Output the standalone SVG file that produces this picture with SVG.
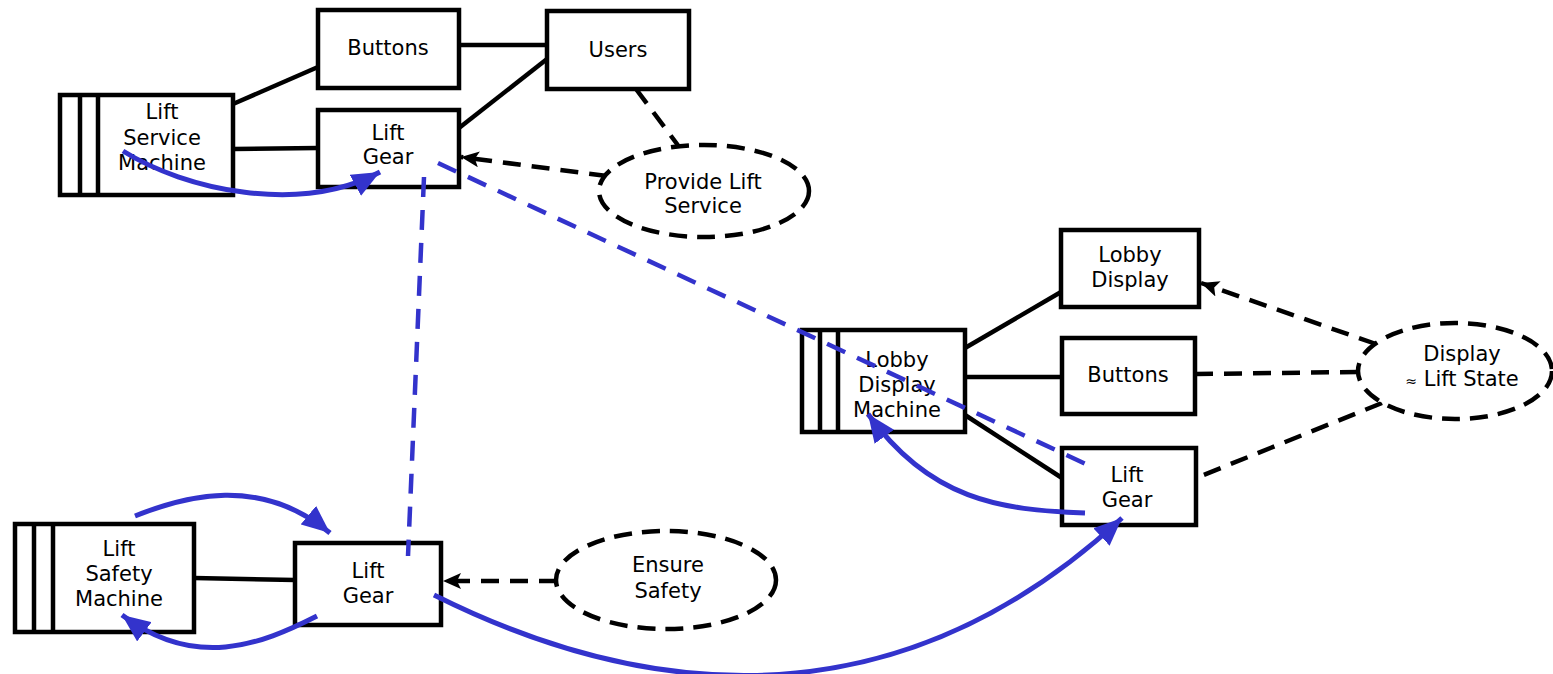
<svg xmlns="http://www.w3.org/2000/svg" width="1553" height="674" viewBox="0 0 1553 674">
  <style>
    .box { fill: #ffffff; stroke: #000000; stroke-width: 4.5; }
    .bar { fill: none; stroke: #000000; stroke-width: 4.5; }
    .domain { fill: #ffffff; stroke: #000000; stroke-width: 4.5; stroke-dasharray: 18 10; }
    .link { fill: none; stroke: #000000; stroke-width: 4.5; }
    .ref { fill: none; stroke: #000000; stroke-width: 4.5; stroke-dasharray: 18 11; }
    .share { fill: none; stroke: #3333cc; stroke-width: 4.5; stroke-dasharray: 20 13; }
    .flow { fill: none; stroke: #3333cc; stroke-width: 5; }
    text { font-family: "DejaVu Sans", Verdana, sans-serif; font-size: 21px; fill: #000000; text-anchor: middle; }
    .small { font-size: 14px; }
  </style>
  <defs>
    <marker id="blackHead" viewBox="0 0 20 16" refX="18" refY="8" markerWidth="20" markerHeight="16" markerUnits="userSpaceOnUse" orient="auto">
      <path d="M0,0 L18,8 L0,16 L4,8 Z" fill="#000000"/>
    </marker>
    <marker id="blueHead" viewBox="0 0 30 24" refX="28" refY="12" markerWidth="30" markerHeight="24" markerUnits="userSpaceOnUse" orient="auto">
      <path d="M0,0 L28,12 L0,24 Z" fill="#3333cc"/>
    </marker>
  </defs>

  <!-- plain links between machines and domains -->
  <g id="connectors">
    <line class="link" x1="233" y1="104" x2="318" y2="67"/>
    <line class="link" x1="233" y1="149" x2="318" y2="148"/>
    <line class="link" x1="459" y1="45" x2="547" y2="45"/>
    <line class="link" x1="459" y1="128" x2="547" y2="59"/>
    <line class="link" x1="965" y1="348" x2="1061" y2="292"/>
    <line class="link" x1="965" y1="377" x2="1062" y2="377"/>
    <line class="link" x1="965" y1="415" x2="1062" y2="478"/>
    <line class="link" x1="194" y1="578" x2="295" y2="580"/>

    <!-- requirement references -->
    <line class="ref" x1="636" y1="89" x2="680" y2="148"/>
    <line class="ref" x1="607" y1="176" x2="461" y2="157" marker-end="url(#blackHead)"/>
    <line class="ref" x1="557" y1="581" x2="443" y2="581" marker-end="url(#blackHead)"/>
    <line class="ref" x1="1376" y1="344" x2="1201" y2="283" marker-end="url(#blackHead)"/>
    <line class="ref" x1="1358" y1="372" x2="1196" y2="374"/>
    <line class="ref" x1="1382" y1="403" x2="1196" y2="478"/>
  </g>

  <!-- domains -->
  <g id="buttons-top"><rect class="box" x="318" y="10" width="141" height="78"/><text x="388" y="55">Buttons</text></g>
  <g id="users"><rect class="box" x="547" y="11" width="142" height="78"/><text x="618" y="57">Users</text></g>
  <g id="lift-gear-top"><rect class="box" x="318" y="110" width="141" height="77"/><text x="388" y="140">Lift</text><text x="388" y="164">Gear</text></g>
  <g id="lift-service-machine">
    <rect class="box" x="60" y="95" width="173" height="100"/>
    <line class="bar" x1="80" y1="95" x2="80" y2="195"/>
    <line class="bar" x1="98" y1="95" x2="98" y2="195"/>
    <text x="162" y="119">Lift</text><text x="162" y="145">Service</text><text x="162" y="170">Machine</text>
  </g>
  <g id="provide-lift-service"><ellipse class="domain" cx="704" cy="191" rx="105" ry="46"/><text x="703" y="189">Provide Lift</text><text x="703" y="213">Service</text></g>

  <g id="lobby-display-machine">
    <rect class="box" x="802" y="330" width="163" height="102"/>
    <line class="bar" x1="820" y1="330" x2="820" y2="432"/>
    <line class="bar" x1="838" y1="330" x2="838" y2="432"/>
    <text x="897" y="367">Lobby</text><text x="897" y="392">Display</text><text x="897" y="417">Machine</text>
  </g>
  <g id="lobby-display"><rect class="box" x="1061" y="230" width="138" height="77"/><text x="1130" y="262">Lobby</text><text x="1130" y="287">Display</text></g>
  <g id="buttons-right"><rect class="box" x="1062" y="338" width="133" height="76"/><text x="1128" y="382">Buttons</text></g>
  <g id="lift-gear-right"><rect class="box" x="1062" y="448" width="134" height="77"/><text x="1127" y="482">Lift</text><text x="1127" y="507">Gear</text></g>
  <g id="display-lift-state"><ellipse class="domain" cx="1455" cy="371" rx="97" ry="48"/><text x="1462" y="361">Display</text><text x="1462" y="386"><tspan class="small">≈</tspan> Lift State</text></g>

  <g id="lift-safety-machine">
    <rect class="box" x="15" y="524" width="179" height="108"/>
    <line class="bar" x1="34" y1="524" x2="34" y2="632"/>
    <line class="bar" x1="53" y1="524" x2="53" y2="632"/>
    <text x="119" y="556">Lift</text><text x="119" y="581">Safety</text><text x="119" y="606">Machine</text>
  </g>
  <g id="lift-gear-bottom"><rect class="box" x="295" y="543" width="146" height="82"/><text x="368" y="578">Lift</text><text x="368" y="603">Gear</text></g>
  <g id="ensure-safety"><ellipse class="domain" cx="666" cy="580" rx="110" ry="49"/><text x="668" y="572">Ensure</text><text x="668" y="598">Safety</text></g>

  <!-- shared phenomena and flows, drawn over the nodes -->
  <g id="flows">
    <line class="share" x1="424" y1="177" x2="408" y2="556"/>
    <line class="share" x1="438" y1="163" x2="1090" y2="466"/>
    <path class="flow" d="M123,151 C185,190 300,215 380,172" marker-end="url(#blueHead)"/>
    <path class="flow" d="M135,516 C185,496 260,475 330,533" marker-end="url(#blueHead)"/>
    <path class="flow" d="M317,616 C260,645 195,670 122,615" marker-end="url(#blueHead)"/>
    <path class="flow" d="M1085,513 C1000,510 930,500 868,414" marker-end="url(#blueHead)"/>
    <path class="flow" d="M434,595 C620,688 880,742 1122,518" marker-end="url(#blueHead)"/>
  </g>
</svg>
